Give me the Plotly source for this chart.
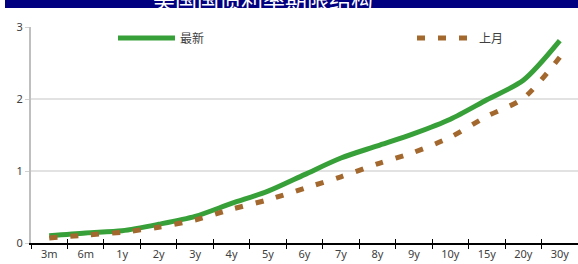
import plotly.graph_objects as go

categories = ["3m", "6m", "1y", "2y", "3y", "4y", "5y", "6y", "7y", "8y", "9y", "10y", "15y", "20y", "30y"]
latest = [0.10, 0.14, 0.17, 0.26, 0.37, 0.55, 0.72, 0.95, 1.18, 1.35, 1.52, 1.72, 1.99, 2.26, 2.81]
last_month = [0.07, 0.11, 0.15, 0.22, 0.32, 0.47, 0.60, 0.76, 0.92, 1.10, 1.26, 1.47, 1.76, 2.01, 2.58]
y_ticks = [0, 1, 2, 3]
grid_vals = [1, 2]
title_text = "美国国债利率期限结构"

W, H = 578, 264
ML, MR, MT, MB = 31, 0, 27, 21
PW, PH = W - ML - MR, H - MT - MB


def px_x(p):
    return (p - ML) / PW


def px_y(p):
    return (H - MB - p) / PH


FONT = "Noto Sans, Noto Sans CJK SC, sans-serif"

fig = go.Figure()
fig.add_trace(go.Scatter(
    x=categories, y=latest, name="最新", mode="lines", legend="legend",
    line=dict(color="#38a038", width=5, shape="spline", smoothing=0.8),
))
fig.add_trace(go.Scatter(
    x=categories, y=last_month, name="上月", mode="lines", legend="legend2",
    line=dict(color="#a3682e", width=5, dash="8px,13px", shape="spline", smoothing=0.8),
))
# helper trace for inner ticks on x axis
fig.add_trace(go.Scatter(
    x=categories, y=[None] * len(categories), xaxis="x2", showlegend=False,
    hoverinfo="skip", mode="lines",
))

shapes = []
for g in grid_vals:
    shapes.append(dict(type="line", xref="paper", yref="y", x0=0, x1=1, y0=g, y1=g,
                       line=dict(color="#d9d9d9", width=1.5), layer="below"))
# title bar
shapes.append(dict(type="rect", xref="paper", yref="paper",
                   x0=px_x(5), x1=px_x(580), y0=px_y(8), y1=px_y(-5),
                   fillcolor="#000080", line=dict(width=0)))

legend_common = dict(
    orientation="h", yanchor="middle", y=px_y(38),
    font=dict(size=12, color="#404040", family=FONT),
    itemwidth=57, bgcolor="rgba(0,0,0,0)", xanchor="left",
)

fig.update_layout(
    width=W, height=H,
    margin=dict(l=ML, r=MR, t=MT, b=MB, autoexpand=False),
    paper_bgcolor="white", plot_bgcolor="white",
    font=dict(family=FONT, size=11, color="#404040"),
    shapes=shapes,
    annotations=[dict(
        text=title_text, xref="paper", yref="paper",
        x=px_x(263), y=px_y(16), xanchor="center", yanchor="bottom",
        showarrow=False, font=dict(size=22, color="white", family=FONT),
    )],
    showlegend=True,
    legend=dict(x=px_x(113), **legend_common),
    legend2=dict(x=px_x(412), **legend_common),
    xaxis=dict(
        type="category", categoryorder="array", categoryarray=categories,
        range=[-0.5, len(categories) - 0.5],
        showline=True, linecolor="#000000", linewidth=1.5,
        ticks="outside", ticklen=4, tickcolor="#000000", tickwidth=1,
        tickson="boundaries", showgrid=False,
        tickfont=dict(size=11, color="#404040"),
    ),
    xaxis2=dict(
        type="category", categoryorder="array", categoryarray=categories,
        range=[-0.5, len(categories) - 0.5], overlaying="x", anchor="y", side="bottom",
        ticks="inside", ticklen=4, tickcolor="#000000", tickwidth=1,
        tickson="boundaries", showticklabels=False, showline=False, showgrid=False,
    ),
    yaxis=dict(
        range=[0, 3], tickvals=y_ticks, showgrid=False, zeroline=False,
        showline=True, linecolor="#bfbfbf", linewidth=2,
        ticks="outside", ticklen=4, tickcolor="#d0d0d0",
        tickfont=dict(size=11, color="#404040"),
    ),
)

fig.write_html(
    "out.html",
    config={"displayModeBar": False},
    post_script="document.body.style.margin='0';document.body.style.overflow='hidden';",
)
